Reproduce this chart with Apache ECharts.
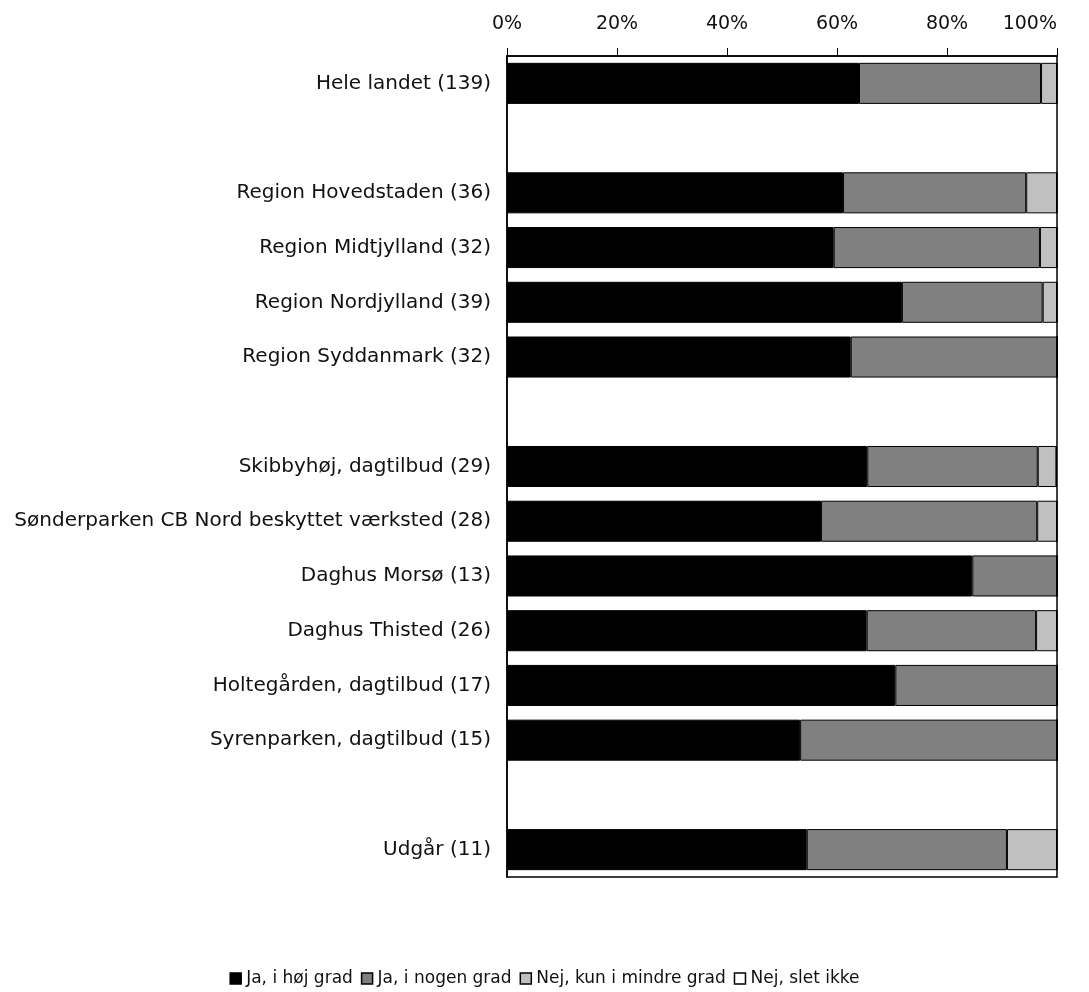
<!DOCTYPE html>
<html><head><meta charset="utf-8">
<script src="https://cdn.jsdelivr.net/npm/echarts@6/dist/echarts.min.js"></script>
<style>html,body{margin:0;padding:0;background:#fff}#c{width:1089px;height:992px}</style>
</head><body><div id="c"></div>
<script>
const categories = ['Hele landet (139)', ' ', 'Region Hovedstaden (36)', 'Region Midtjylland (32)', 'Region Nordjylland (39)', 'Region Syddanmark (32)', '  ', 'Skibbyhøj, dagtilbud (29)', 'Sønderparken CB Nord beskyttet værksted (28)', 'Daghus Morsø (13)', 'Daghus Thisted (26)', 'Holtegården, dagtilbud (17)', 'Syrenparken, dagtilbud (15)', '   ', 'Udgår (11)'];
const seriesNames = ['Ja, i høj grad', 'Ja, i nogen grad', 'Nej, kun i mindre grad', 'Nej, slet ikke'];
const jaHoej =    [64.0, null, 61.1, 59.4, 71.8, 62.5, null, 65.5, 57.1, 84.6, 65.4, 70.6, 53.3, null, 54.5];
const jaNogen =   [33.1, null, 33.3, 37.5, 25.6, 37.5, null, 31.0, 39.3, 15.4, 30.8, 29.4, 46.7, null, 36.4];
const nejMindre = [2.9,  null, 5.6,  3.1,  2.6,  0,    null, 3.4,  3.6,  0,    3.8,  0,    0,    null, 9.1];
const nejSlet =   [0,    null, 0,    0,    0,    0,    null, 0,    0,    0,    0,    0,    0,    null, 0];
const tickLabels = ['0%', '20%', '40%', '60%', '80%', '100%'];

const colors = ['#000000', '#808080', '#c0c0c0', '#ffffff'];
const values = [jaHoej, jaNogen, nejMindre, nejSlet];
const font = 'DejaVu Sans';

const chart = echarts.init(document.getElementById('c'), null, {renderer: 'canvas'});
chart.setOption({
  animation: false,
  textStyle: {fontFamily: font},
  grid: {left: 507, right: 32, top: 56, bottom: 115, show: true, borderColor: '#000', borderWidth: 1.5, backgroundColor: 'transparent'},
  legend: {
    top: 965, left: 'center', itemWidth: 11, itemHeight: 11, itemGap: 8,
    icon: 'rect',
    textStyle: {fontFamily: font, fontSize: 17, color: '#111'},
    data: seriesNames.map((n, i) => ({name: n, itemStyle: {color: colors[i], borderColor: '#000', borderWidth: 1.5}}))
  },
  xAxis: {
    type: 'value', position: 'top', min: 0, max: 100, interval: 20,
    axisLine: {show: true, lineStyle: {color: '#000', width: 1.5}},
    axisTick: {show: true, inside: false, length: 8, lineStyle: {color: '#000'}},
    splitLine: {show: false},
    axisLabel: {fontFamily: font, fontSize: 19, color: '#111', margin: 22, alignMaxLabel: 'right',
      formatter: v => tickLabels[Math.round(v / 20)]}
  },
  yAxis: {
    type: 'category', inverse: true, data: categories,
    axisLine: {show: true, lineStyle: {color: '#000', width: 1.5}},
    axisTick: {show: false},
    axisLabel: {fontFamily: font, fontSize: 20, color: '#111', margin: 16}
  },
  series: seriesNames.map((n, i) => ({
    name: n, type: 'bar', stack: 'total', data: values[i],
    barCategoryGap: '25%',
    itemStyle: {color: colors[i], borderColor: '#000', borderWidth: 1}
  }))
});
</script></body></html>
